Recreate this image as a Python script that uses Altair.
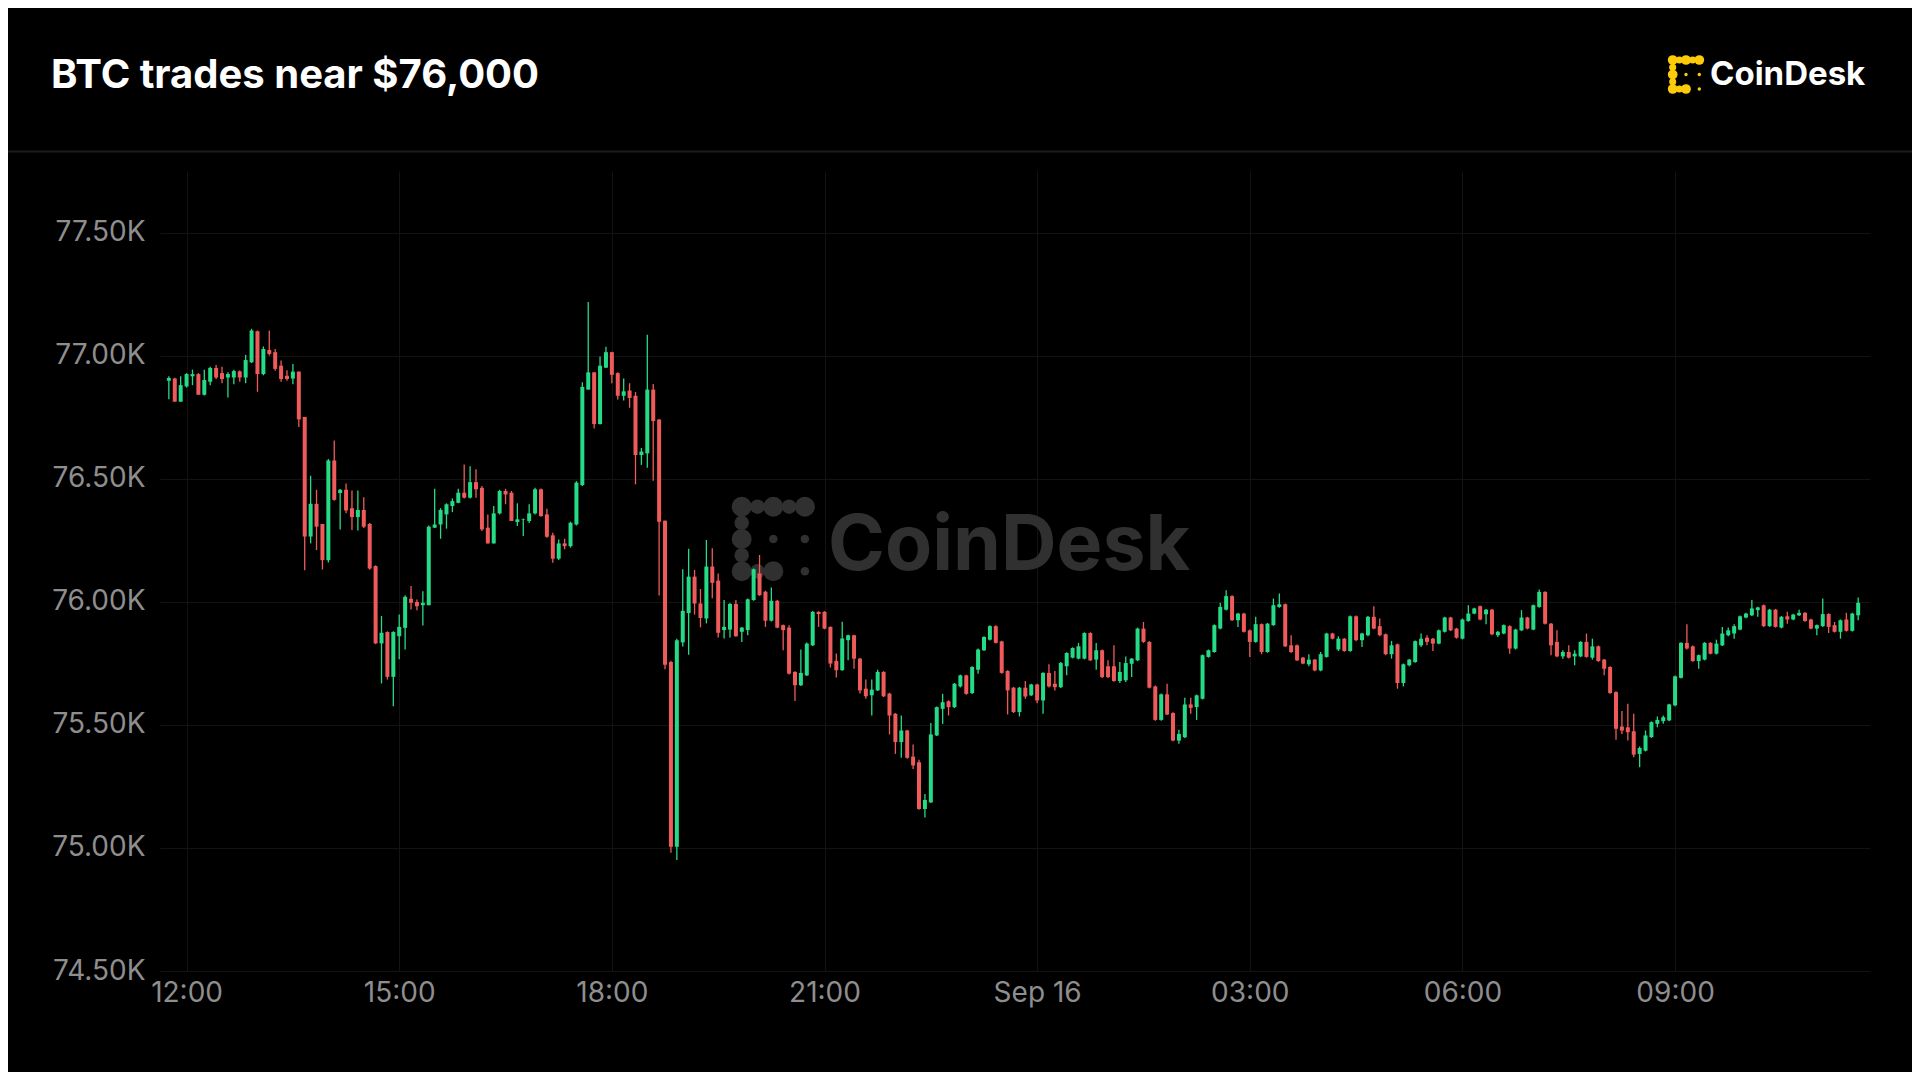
import altair as alt
import pandas as pd

# ---- data (5-minute BTC candles) ----
START = "2024-09-15 11:45"
OPEN = [76898,76907,76813,76875,76916,76925,76841,76894,76950,76929,76911,76911,76936,76911,76973,77099,76925,77023,77014,76959,
        76918,76907,76935,76751,76265,76398,76316,76169,76574,76442,76455,76380,76344,76373,76316,76145,75831,75877,75695,75860,
        75894,76012,75999,75986,75986,76301,76314,76355,76389,76402,76443,76423,76486,76463,76301,76237,76359,76450,76443,76324,
        76333,76328,76359,76457,76355,76270,76175,76237,76226,76314,76474,76862,76932,76722,76951,77014,76929,76837,76858,76837,
        76596,76603,76862,76740,76329,75755,75005,75835,75954,76102,75993,75932,76143,76086,75885,75887,75991,75878,75885,76007,
        76115,76041,75923,76004,75905,75895,75715,75661,75701,75823,75959,75959,75898,75760,75722,75844,75864,75769,75647,75620,
        75640,75715,75627,75545,75430,75477,75371,75348,75158,75185,75457,75565,75596,75572,75656,75701,75629,75724,75803,75846,
        75901,75839,75719,75651,75552,75651,75620,75664,75599,75711,75667,75653,75738,75773,75769,75769,75873,75765,75803,75738,
        75738,75678,75681,75748,75762,75891,75837,75656,75520,75624,75548,75436,75450,75583,75572,75606,75776,75796,75891,75968,
        76023,75925,75952,75884,75837,75909,75796,75905,75979,75990,75823,75823,75773,75746,75765,75721,75776,75871,75806,75850,
        75800,75941,75844,75864,75939,75901,75868,75787,75827,75670,75742,75755,75823,75854,75850,75830,75878,75936,75891,75850,
        75922,75952,75982,75949,75968,75864,75871,75901,75810,75884,75936,75887,75979,76040,75911,75837,75778,75796,75778,75778,
        75837,75773,75819,75765,75735,75633,75493,75490,75474,75382,75395,75450,75504,75515,75518,75579,75691,75833,75819,75759,
        75765,75833,75789,75823,75864,75871,75887,75936,75945,75966,75986,75901,75968,75895,75941,75928,75945,75955,75928,75891,
        75901,75950,75905,75878,75928,75882,75945]
HIGH = [76916,76910,76916,76929,76943,76929,76943,76955,76962,76955,76932,76943,76940,77003,77109,77102,77037,77102,77027,76980,
        76941,76966,76935,76751,76512,76455,76316,76580,76655,76458,76480,76452,76452,76425,76320,76148,75942,75880,75880,75948,
        76026,76064,76009,76043,76310,76459,76380,76400,76420,76459,76558,76551,76538,76470,76355,76389,76455,76459,76450,76400,
        76338,76396,76463,76460,76378,76280,76253,76256,76325,76490,76892,77218,76932,76996,77036,77016,76932,76907,76888,76852,
        76625,77085,76885,76742,76330,75760,75850,76132,76215,76129,76052,76251,76217,76115,76007,75995,76007,75897,76013,76135,
        76190,76045,76058,76007,75908,75905,75718,75806,75835,75962,75962,75962,75900,75790,75919,75866,75866,75772,75684,75684,
        75724,75718,75630,75548,75538,75480,75420,75358,75219,75507,75575,75626,75600,75670,75704,75704,75738,75810,75860,75905,
        75905,75842,75722,75654,75654,75678,75667,75667,75714,75746,75719,75755,75795,75815,75833,75876,75876,75833,75806,75762,
        75823,75755,75778,75772,75895,75918,75840,75660,75627,75667,75551,75480,75610,75610,75623,75786,75806,75908,75996,76047,
        76026,75955,75955,75887,75939,75912,75914,76013,76034,75993,75864,75826,75776,75787,75768,75796,75874,75874,75860,75853,
        75944,75944,75874,75942,75982,75932,75871,75841,75830,75749,75768,75843,75871,75864,75853,75887,75939,75939,75894,75932,
        75986,75976,75985,75971,75971,75881,75908,75905,75890,75966,75939,75989,76050,76043,75914,75884,75803,75823,75803,75840,
        75871,75850,75822,75768,75738,75636,75556,75586,75545,75412,75477,75514,75534,75538,75586,75700,75836,75909,75822,75786,
        75836,75836,75846,75898,75895,75909,75944,75955,76007,75980,75989,75971,75971,75942,75959,75951,75968,75958,75931,75908,
        76013,75953,75918,75928,75955,75955,76017]
LOW = [76823,76813,76813,76870,76880,76841,76838,76880,76905,76888,76830,76884,76894,76888,76970,76853,76920,77000,76939,76894,
       76898,76884,76710,76128,76237,76210,76131,76160,76410,76294,76360,76292,76290,76300,76130,75828,75668,75684,75576,75766,
       75806,75969,75966,75904,75986,76300,76256,76297,76364,76400,76420,76420,76423,76287,76237,76237,76355,76396,76328,76308,
       76267,76320,76355,76345,76260,76159,76170,76213,76220,76310,76470,76862,76704,76720,76950,76888,76822,76818,76788,76477,
       76556,76544,76492,76025,75726,74980,74951,75818,75785,75948,75896,75912,76014,75855,75851,75855,75858,75837,75864,76004,
       76024,75898,75920,75892,75803,75705,75597,75658,75698,75820,75898,75888,75733,75692,75720,75762,75728,75627,75606,75538,
       75637,75613,75461,75382,75366,75362,75321,75155,75124,75183,75455,75504,75538,75568,75652,75622,75625,75708,75800,75843,
       75830,75708,75542,75548,75534,75606,75617,75588,75545,75652,75640,75650,75701,75770,75766,75766,75759,75724,75690,75690,
       75675,75670,75674,75694,75759,75833,75648,75517,75517,75540,75433,75423,75447,75545,75520,75603,75773,75793,75888,75965,
       75922,75898,75875,75776,75834,75787,75793,75902,75976,75816,75792,75759,75746,75738,75718,75718,75773,75847,75800,75797,
       75797,75840,75816,75860,75888,75860,75783,75769,75647,75656,75738,75752,75816,75823,75800,75827,75875,75881,75850,75847,
       75919,75949,75925,75909,75864,75857,75868,75789,75806,75881,75888,75884,75976,75908,75783,75775,75769,75770,75742,75775,
       75773,75765,75756,75701,75626,75439,75463,75436,75368,75328,75392,75447,75490,75504,75515,75576,75688,75806,75756,75728,
       75762,75786,75786,75820,75860,75850,75884,75933,75942,75939,75898,75898,75895,75892,75911,75925,75942,75919,75888,75864,
       75898,75873,75875,75850,75879,75879,75925]
CLOSE = [76909,76813,76880,76925,76925,76841,76901,76950,76911,76905,76925,76937,76911,76982,77102,76925,77027,77007,76946,76905,
         76905,76935,76741,76265,76398,76305,76169,76574,76414,76455,76371,76344,76373,76305,76135,75831,75874,75695,75877,75898,
         76020,75996,75982,75996,76305,76314,76373,76396,76409,76443,76423,76486,76457,76294,76237,76359,76450,76436,76328,76335,
         76335,76359,76457,76348,76264,76175,76237,76226,76321,76484,76873,76932,76722,76959,77014,76922,76837,76855,76828,76596,
         76610,76862,76734,76325,75744,75005,75844,75963,76102,75993,75934,76143,76077,75874,75898,75991,75860,75895,76010,76132,
         76027,75923,76004,75895,75885,75708,75661,75711,75830,75959,75950,75891,75749,75722,75851,75864,75769,75640,75616,75643,
         75715,75616,75538,75430,75477,75366,75335,75158,75195,75461,75572,75592,75572,75667,75701,75626,75735,75806,75857,75901,
         75833,75711,75640,75552,75651,75615,75664,75599,75711,75656,75653,75751,75792,75812,75819,75873,75762,75803,75694,75694,
         75678,75715,75751,75769,75891,75837,75651,75520,75624,75542,75436,75463,75583,75569,75620,75783,75803,75905,75979,76023,
         75925,75952,75878,75837,75909,75796,75911,75986,75990,75819,75796,75762,75749,75765,75721,75787,75871,75850,75850,75800,
         75941,75844,75871,75939,75891,75864,75787,75823,75670,75746,75765,75840,75850,75837,75830,75884,75936,75884,75854,75928,
         75952,75973,75928,75968,75868,75878,75905,75810,75887,75936,75891,75986,76040,75911,75823,75778,75796,75773,75789,75837,
         75776,75819,75759,75728,75629,75484,75477,75470,75379,75406,75457,75511,75520,75531,75583,75697,75833,75810,75759,75783,
         75833,75789,75830,75871,75884,75901,75941,75952,75973,75977,75901,75968,75898,75939,75928,75948,75955,75922,75891,75905,
         75950,75898,75878,75925,75882,75952,75996]

TITLE = "BTC trades near $76,000"
BRAND = "CoinDesk"
Y_TICKS = [74500, 75000, 75500, 76000, 76500, 77000, 77500]
X_TICK_HOURS = [(15, 12), (15, 15), (15, 18), (15, 21), (16, 0), (16, 3), (16, 6), (16, 9)]

GREEN = "#26DB86"
RED = "#EF5B5B"
GRID = "#131313"
LABEL = "#8E8E8E"
FONT = "Inter"

df = pd.DataFrame({
    "t": pd.date_range(START, periods=len(CLOSE), freq="5min"),
    "open": OPEN, "high": HIGH, "low": LOW, "close": CLOSE,
})

W, H = 1710, 800
one = alt.Data(values=[{"k": 1}])

x_enc = alt.X(
    "t:T",
    scale=alt.Scale(domain=[alt.DateTime(year=2024, month=9, date=15, hours=11, minutes=37, seconds=30),
                            alt.DateTime(year=2024, month=9, date=16, hours=11, minutes=45)],
                    padding=0),
    axis=alt.Axis(
        values=[alt.DateTime(year=2024, month=9, date=d, hours=h) for d, h in X_TICK_HOURS],
        labelExpr="hours(datum.value) == 0 ? timeFormat(datum.value, '%b %d') : timeFormat(datum.value, '%H:%M')",
        title=None, ticks=False, domain=False, grid=True, gridColor=GRID, gridWidth=1,
        labelColor=LABEL, labelFontSize=28, labelFont=FONT, labelPadding=8, labelFlush=False,
    ),
)
y_scale = alt.Scale(domain=[74500, 77750], nice=False, zero=False)
y_axis = alt.Axis(
    values=Y_TICKS, labelExpr="format(datum.value / 1000, '.2f') + 'K'",
    title=None, ticks=False, domain=False, grid=True, gridColor=GRID, gridWidth=1,
    labelColor=LABEL, labelFontSize=28, labelFont=FONT, labelPadding=15,
)
col = alt.condition("datum.close >= datum.open", alt.value(GREEN), alt.value(RED))


def icon(cols, rows, big, neck, small, color):
    out = []
    bigs = [(0, 0), (1, 0), (2, 0), (0, 1), (0, 2), (1, 2)]
    necks = [(0.5, 0), (1.5, 0), (0, 0.5), (0, 1.5), (0.5, 2)]
    smalls = [(1, 1), (2, 1), (2, 2)]
    for group, s in ((bigs, big), (necks, neck), (smalls, small)):
        for c, r in group:
            cx = cols[0] + (cols[1] - cols[0]) * c
            cy = rows[0] + (rows[1] - rows[0]) * r
            out.append(alt.Chart(one).mark_circle(size=s, color=color, opacity=1)
                       .encode(x=alt.value(cx), y=alt.value(cy)))
    return out


layers = []
# watermark (under the candles)
WM = "#303030"
layers += icon([581.7, 613.3], [335.7, 368], 400, 210, 72, WM)
layers.append(alt.Chart(one).mark_text(text=BRAND, font=FONT, fontWeight="bold", fontSize=77,
                                       color=WM, align="left", baseline="alphabetic")
              .encode(x=alt.value(668), y=alt.value(399)))

wick = alt.Chart(df).mark_rule(strokeWidth=1.3).encode(
    x=x_enc, y=alt.Y("low:Q", scale=y_scale, axis=y_axis), y2="high:Q", color=col)
body = alt.Chart(df).mark_bar(size=4).encode(
    x="t:T", y="open:Q", y2="close:Q", color=col)
layers += [wick, body]

# header
layers.append(alt.Chart(one).mark_text(text=TITLE, font=FONT, fontWeight="bold", fontSize=40,
                                       color="#FFFFFF", align="left", baseline="alphabetic")
              .encode(x=alt.value(-109), y=alt.value(-83.5)))
layers.append(alt.Chart(one).mark_text(text=BRAND, font=FONT, fontWeight="bold", fontSize=33,
                                       color="#FFFFFF", align="left", baseline="alphabetic")
              .encode(x=alt.value(1550), y=alt.value(-86)))
layers += icon([1512.7, 1526.0], [-111, -96.5], 95, 50, 12, "#FDCB0A")
layers.append(alt.Chart(one).mark_rule(color="#1C1C1C", strokeWidth=2)
              .encode(x=alt.value(-152), x2=alt.value(1752), y=alt.value(-19.5)))

chart = alt.layer(*layers).properties(
    width=W, height=H,
    autosize=alt.AutoSizeParams(type="none"),
    padding={"left": 152, "top": 163, "right": 42, "bottom": 101},
    background="#000000",
).configure(font=FONT).configure_view(stroke=None)

chart.save("out.html", embed_options={"renderer": "svg", "actions": False})
